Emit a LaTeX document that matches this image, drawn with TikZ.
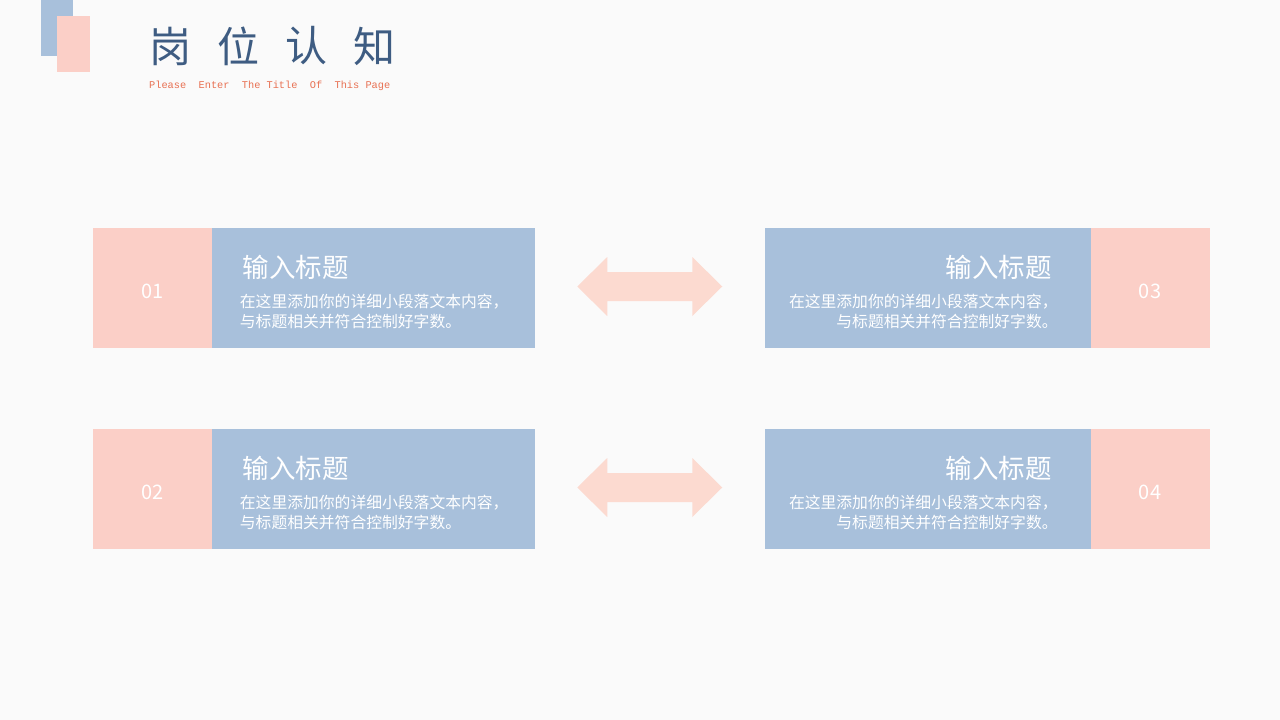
\documentclass[tikz,border=0pt]{standalone}
\usepackage{fontspec}
\setmainfont{Noto Sans CJK SC}
\newfontfamily\subfont{Liberation Mono}
\usepackage{tikz}
\usetikzlibrary{positioning,calc}
\definecolor{pageGray}{RGB}{250,250,250}
\definecolor{pinkBox}{RGB}{251,207,199}
\definecolor{blueBox}{RGB}{168,192,219}
\definecolor{pinkArrow}{RGB}{252,218,208}
\definecolor{titleBlue}{RGB}{62,92,130}
\definecolor{subOrange}{RGB}{232,112,82}

\begin{document}
\begin{tikzpicture}[x=1pt, y=-1pt,
		num/.style={fill=pinkBox, minimum width=119pt, minimum height=120pt, inner sep=0pt, text=white, text height=20.5pt, text depth=0pt, font=\fontsize{20}{24}\selectfont},
		card/.style={fill=blueBox, minimum width=323pt, minimum height=120pt, inner sep=0pt},
		head/.style={inner sep=0pt, text=white, font=\fontsize{26.5}{30}\selectfont},
		body/.style={inner sep=0pt, text=white, font=\fontsize{15.8}{20}\selectfont},
		twoway/.pic={\fill[pinkArrow] (-72.5,0) -- ++(30,-29.5) -- ++(0,15) -- ++(85,0) -- ++(0,-15) -- ++(30,29.5) -- ++(-30,29.5) -- ++(0,-15) -- ++(-85,0) -- ++(0,15) -- cycle;}]
			\fill[pageGray] (0,0) rectangle (1280,720);
			\useasboundingbox (0,0) rectangle (1280,720);
			% title corner
			\fill[blueBox] (41,0) rectangle (73,56);
			\fill[pinkBox] (57,16) rectangle (90,72);
			\foreach \c [count=\i] in {岗,位,认,知}
				\node[inner sep=0pt, text=titleBlue, font=\fontsize{42}{46}\selectfont] (Title\i) at (170+68*\i-68, 46) {\c};
			\node[anchor=west, inner sep=0pt, text=subOrange, font=\subfont\fontsize{10.3}{12}\selectfont] (Sub) at (149,86) {Please~~Enter~~The Title~~Of~~This Page};
			% left side
			\node[num] (Num1) at (152.5,288) {01};
			\node[card, right=-0.5pt of Num1] (Card1) {};
			\node[num] (Num2) at (152.5,489) {02};
			\node[card, right=-0.5pt of Num2] (Card2) {};
			% right side
			\node[num] (Num3) at (1150,288) {03};
			\node[card, minimum width=326pt, left=-0.5pt of Num3] (Card3) {};
			\node[num] (Num4) at (1150,489) {04};
			\node[card, minimum width=326pt, left=-0.5pt of Num4] (Card4) {};
			% texts
			\foreach \k in {1,2} {
				\node[head, anchor=west, xshift=31pt, yshift=21pt] (Head\k) at (Card\k.west) {输入标题};
				\node[body, anchor=west, align=left, xshift=28pt, yshift=-23pt] (Body\k) at (Card\k.west) {在这里添加你的详细小段落文本内容，\\与标题相关并符合控制好字数。};
			}
			\foreach \k in {3,4} {
				\node[head, anchor=east, xshift=-39pt, yshift=21pt] (Head\k) at (Card\k.east) {输入标题};
				\node[body, anchor=east, align=right, xshift=-33pt, yshift=-23pt] (Body\k) at (Card\k.east) {在这里添加你的详细小段落文本内容，\\与标题相关并符合控制好字数。};
			}
			% arrows between
			\pic (Link1) at ($(Card1.east)!0.5!(Card3.west)+(0,-1.5)$) {twoway};
			\pic (Link2) at ($(Card2.east)!0.5!(Card4.west)+(0,-1.5)$) {twoway};
		\end{tikzpicture}
\end{document}
